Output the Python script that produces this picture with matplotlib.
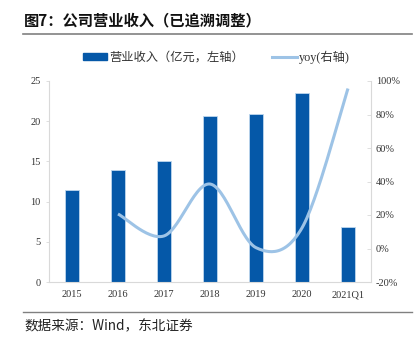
import numpy as np
import matplotlib
matplotlib.use("Agg")
import matplotlib.pyplot as plt
from matplotlib.lines import Line2D
from matplotlib.patches import Patch

plt.rcParams['font.family'] = ['Noto Sans CJK SC', 'DejaVu Sans']

categories = ["2015", "2016", "2017", "2018", "2019", "2020", "2021Q1"]
revenue = [11.5, 13.9, 15.0, 20.6, 20.9, 23.5, 6.9]
yoy = [None, 20.6, 7.5, 38.5, 0.5, 12.3, 95.5]


def smooth(xs, ys, n=30):
    # catmull-rom style smoothing, like the spreadsheet "smoothed line"
    xs = np.asarray(xs, float)
    ys = np.asarray(ys, float)
    P = np.column_stack([xs, ys])
    P = np.vstack([P[0], P, P[-1]])
    out = []
    for i in range(1, len(P) - 2):
        p0, p1, p2, p3 = P[i - 1], P[i], P[i + 1], P[i + 2]
        t = np.linspace(0, 1, n)[:, None]
        c1 = p1 + (p2 - p0) / 6
        c2 = p2 - (p3 - p1) / 6
        seg = ((1 - t) ** 3) * p1 + 3 * ((1 - t) ** 2) * t * c1 + 3 * (1 - t) * t ** 2 * c2 + t ** 3 * p2
        out.append(seg)
    s = np.vstack(out)
    return s[:, 0], s[:, 1]


fig = plt.figure(figsize=(4.2, 3.44), dpi=100)
ax = fig.add_axes([49 / 420, 1 - 282 / 344, 322 / 420, 201 / 344])
x = np.arange(len(categories))

bar_col = "#0558A8"
line_col = "#9DC3E6"
ax.bar(x, revenue, width=0.31, color=bar_col, edgecolor="#BDD7EE", linewidth=0.6, zorder=2)
ax.set_ylim(0, 25)
ax.set_yticks(range(0, 26, 5))
ax.set_xlim(-0.5, len(categories) - 0.5)
ax.set_xticks(x)
ax.set_xticklabels(categories)

ax2 = ax.twinx()
xi = [i for i, v in enumerate(yoy) if v is not None]
yi = [v for v in yoy if v is not None]
sx, sy = smooth(xi, yi)
ax2.plot(sx, sy, color=line_col, linewidth=2.2, zorder=3, solid_capstyle='butt')
ax2.set_ylim(-20, 100)
ax2.set_yticks(range(-20, 101, 20))
ax2.set_yticklabels([f"{v}%" for v in range(-20, 101, 20)])

for a in (ax, ax2):
    for s in a.spines.values():
        s.set_visible(False)
    a.tick_params(labelsize=7.5, colors="#333333", length=2.5, width=0.6)
    for lab in a.get_xticklabels() + a.get_yticklabels():
        lab.set_family('Liberation Serif')
ax.spines['left'].set_visible(True)
ax.spines['bottom'].set_visible(True)
ax.spines['left'].set_color("#D9D9D9")
ax.spines['bottom'].set_color("#D9D9D9")
ax2.spines['right'].set_visible(True)
ax2.spines['right'].set_color("#D9D9D9")
ax.tick_params(axis='x', length=0, pad=6)
ax.tick_params(axis='y', color="#D9D9D9")
ax2.tick_params(axis='y', color="#D9D9D9", direction='in', length=3)

handles = [Patch(facecolor=bar_col, edgecolor=bar_col),
           Line2D([0], [0], color=line_col, linewidth=2.2)]
leg = fig.legend(handles, ["营业收入（亿元，左轴）", "yoy(右轴)"], loc='center',
                 bbox_to_anchor=(0.515, 1 - 57 / 344), ncol=2, frameon=False,
                 fontsize=8.8, handlelength=2.0, handleheight=0.5, columnspacing=2.3,
                 handletextpad=0.2)
for t in leg.get_texts():
    t.set_color("#333333")
    t.set_family(['Liberation Serif', 'Noto Sans CJK SC'])

fig.text(24 / 420, 1 - 20 / 344, "图7：公司营业收入（已追溯调整）", fontsize=11, fontweight='bold',
         va='center', ha='left', color="#111111")
fig.add_artist(Line2D([23 / 420, 412 / 420], [1 - 34 / 344] * 2, color="#808080", linewidth=1.2))
fig.add_artist(Line2D([23 / 420, 412 / 420], [1 - 312 / 344] * 2, color="#808080", linewidth=1.0))
fig.text(24 / 420, 1 - 326 / 344, "数据来源：Wind，东北证券", fontsize=9.8, va='center', ha='left',
         color="#222222", family=['Noto Sans CJK SC', 'DejaVu Sans'])

fig.savefig("out.png", dpi=100)
